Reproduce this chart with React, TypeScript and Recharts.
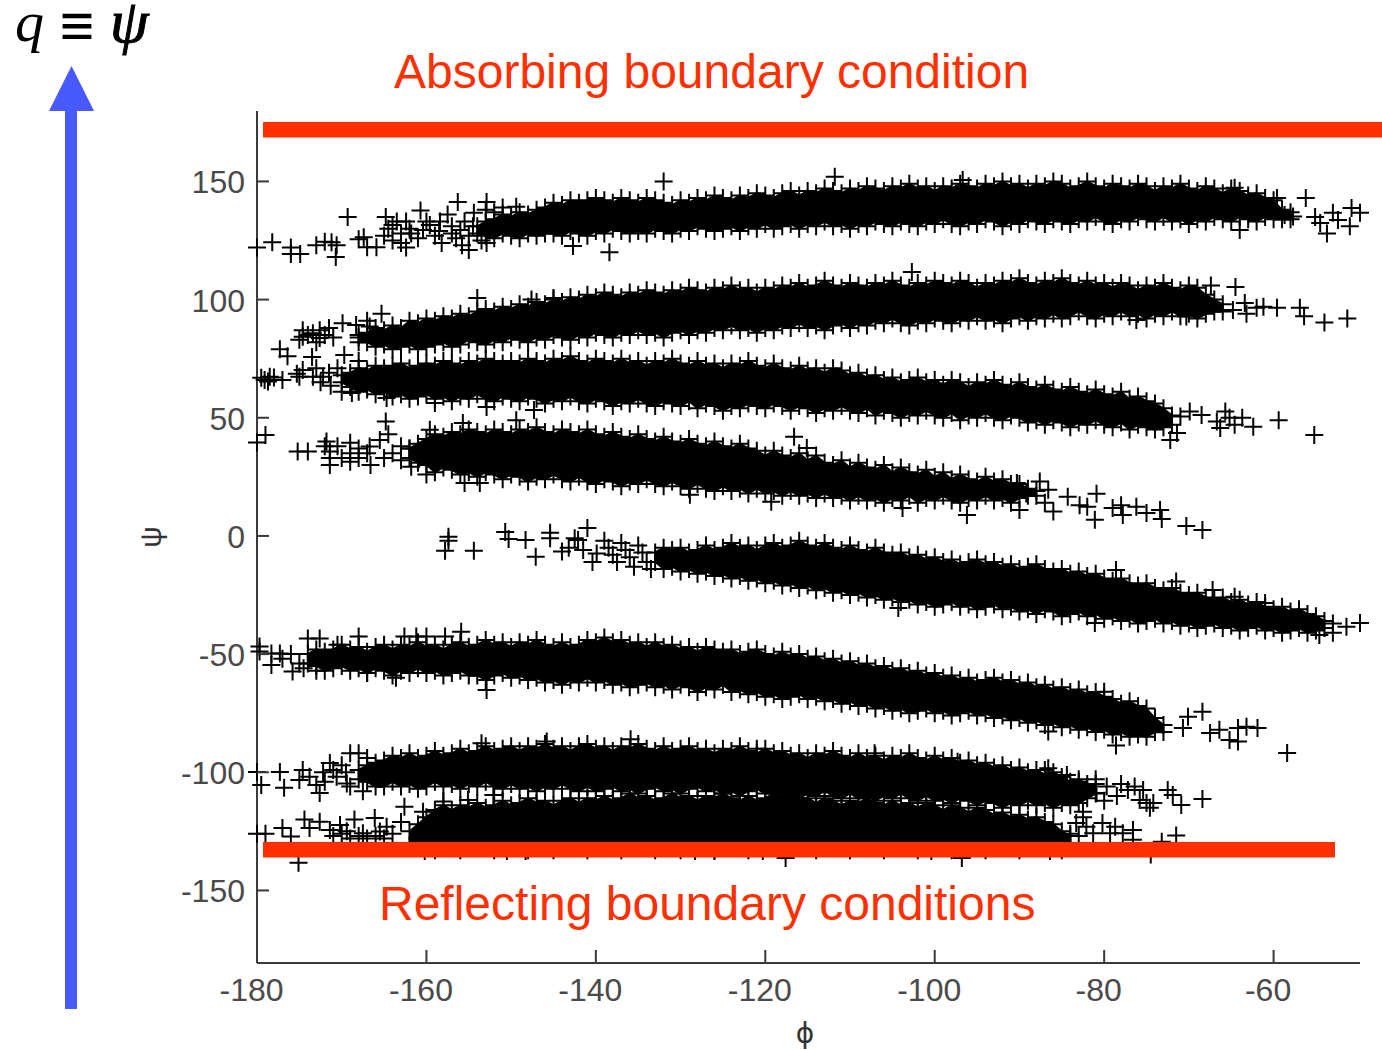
import { Area, ComposedChart, Scatter, XAxis, YAxis } from "recharts";

const phiTicks = [-180, -160, -140, -120, -100, -80, -60];
const psiTicks = [-150, -100, -50, 0, 50, 100, 150];

// each band: first phi of the dense part, then upper and lower edge of the cloud per degree of phi
const band1Start = -154;
const band1Hi = [130,132,133,135,134,136,135,137,138,
  140,139,141,140,141,142,141,140,142,141,
  140,142,141,140,139,141,140,142,141,143,
  142,141,143,142,144,143,142,144,145,143,
  145,144,146,145,144,146,145,147,146,145,
  147,146,148,146,147,145,147,146,148,147,
  146,148,147,149,147,148,146,148,147,149,
  148,146,147,149,147,146,148,147,146,148,
  147,145,147,146,148,146,145,147,146,144,
  146,145,143,144,142,141,137,136];
const band1Lo = [129,128,127,129,128,127,129,128,129,
  129,128,130,129,128,130,129,131,130,129,
  130,129,131,130,129,131,130,132,131,130,
  131,132,130,132,131,133,131,132,133,131,
  133,132,134,132,133,131,133,132,134,133,
  132,134,133,132,134,133,135,133,132,134,
  133,135,134,132,134,133,135,134,133,135,
  134,133,135,134,136,134,133,135,134,136,
  135,134,136,134,135,133,135,134,136,135,
  134,136,135,134,136,135,135,135];

const band2Start = -168;
const band2Hi = [84,85,87,86,88,87,90,89,91,90,
  92,91,93,92,94,95,94,96,95,97,
  96,98,97,99,98,100,99,101,100,102,
  101,100,102,101,103,102,101,103,102,104,
  103,102,104,103,105,103,104,102,104,103,
  105,104,106,104,105,107,105,104,106,105,
  104,106,105,107,105,104,106,105,107,106,
  105,107,106,104,106,105,107,106,108,106,
  105,107,106,108,106,105,107,105,106,104,
  106,105,103,105,104,106,104,103,105,104,
  101,99,97];
const band2Lo = [83,83,81,82,80,81,82,80,81,82,
  83,81,82,84,83,82,84,83,85,84,
  83,85,84,86,85,84,86,85,87,86,
  85,87,86,88,86,87,85,87,88,86,
  88,87,89,88,90,88,89,87,89,88,
  90,89,91,89,90,88,90,91,89,91,
  90,92,91,93,91,90,92,91,93,92,
  91,93,92,94,92,93,91,93,94,92,
  94,93,95,93,94,96,94,93,95,94,
  96,94,95,93,95,94,96,94,95,93,
  95,96,96];

const band3Start = -170;
const band3Hi = [67,68,70,69,71,70,71,72,70,71,
  72,71,73,72,71,73,72,74,73,72,
  73,72,74,73,72,74,73,75,73,72,
  74,73,72,74,72,73,71,73,72,74,
  72,71,73,71,72,70,72,71,73,71,
  70,72,70,69,71,69,70,68,70,69,
  67,68,66,67,65,66,64,65,66,64,
  65,63,65,64,62,64,63,65,63,62,
  64,62,61,63,61,60,62,60,59,61,
  59,58,60,57,58,56,55,53,50];
const band3Lo = [66,64,62,63,61,62,60,61,59,60,
  61,59,60,58,60,59,61,59,58,60,
  59,58,60,59,57,59,58,60,58,57,
  59,58,56,58,57,59,57,56,58,57,
  56,58,55,57,56,54,56,55,57,56,
  55,57,56,54,56,55,53,55,54,56,
  54,53,55,52,54,53,51,53,52,54,
  52,51,53,50,52,51,53,51,50,52,
  51,49,50,48,50,49,47,49,48,50,
  48,47,49,46,48,47,46,47,48];

const band4Start = -162;
const band4Hi = [36,38,40,42,41,43,42,44,43,42,
  44,43,42,44,43,45,43,42,44,43,
  42,44,42,41,43,41,40,42,40,39,
  41,39,38,40,38,37,39,37,36,38,
  36,35,33,35,33,32,34,31,33,30,
  29,31,28,30,28,27,29,26,28,26,
  25,27,24,26,23,25,23,22,24,22,
  23,21,21,19,18];
const band4Lo = [34,32,31,28,30,29,27,28,26,28,
  27,25,27,26,24,26,25,27,25,24,
  26,24,23,25,24,22,24,23,25,23,
  22,24,22,21,23,21,20,22,20,21,
  19,21,19,20,18,20,18,19,17,19,
  17,18,16,18,16,17,15,17,16,18,
  15,17,16,18,16,15,17,16,18,16,
  17,15,17,18,18];

const band5Start = -133;
const band5Hi = [-8,-6,-7,-6,-8,-7,-5,-7,-6,-4,
  -6,-5,-7,-5,-4,-6,-5,-3,-5,-6,
  -4,-6,-7,-5,-7,-8,-6,-8,-9,-8,
  -10,-9,-11,-10,-12,-11,-13,-12,-11,-13,
  -12,-14,-13,-15,-14,-13,-15,-16,-15,-17,
  -16,-18,-17,-19,-20,-19,-21,-22,-21,-23,
  -24,-23,-25,-26,-25,-27,-28,-27,-29,-28,
  -30,-29,-31,-32,-31,-33,-32,-34,-35,-37];
const band5Lo = [-10,-13,-12,-14,-13,-15,-14,-16,-15,-17,
  -16,-18,-17,-19,-18,-20,-19,-21,-20,-22,
  -21,-23,-22,-24,-23,-25,-24,-26,-25,-27,
  -26,-28,-27,-29,-28,-27,-29,-28,-30,-29,
  -28,-30,-29,-31,-30,-32,-30,-31,-33,-32,
  -31,-33,-32,-34,-33,-35,-34,-36,-35,-34,
  -36,-35,-37,-36,-38,-37,-36,-38,-37,-39,
  -38,-37,-39,-38,-40,-39,-38,-40,-39,-38];

const band6Start = -174;
const band6Hi = [-51,-49,-50,-49,-47,-49,-48,-50,-48,-47,
  -49,-47,-48,-46,-48,-47,-49,-47,-46,-48,
  -47,-45,-47,-46,-48,-46,-47,-45,-47,-48,
  -46,-48,-47,-45,-46,-44,-46,-45,-47,-46,
  -48,-46,-48,-47,-49,-48,-50,-48,-49,-50,
  -49,-51,-50,-49,-51,-52,-50,-52,-51,-53,
  -52,-54,-53,-55,-54,-56,-55,-57,-56,-58,
  -57,-59,-58,-60,-59,-61,-60,-62,-61,-63,
  -62,-61,-63,-62,-64,-63,-65,-64,-66,-65,
  -67,-66,-68,-67,-69,-70,-72,-71,-73,-74,
  -78,-81];
const band6Lo = [-53,-54,-56,-55,-54,-56,-55,-57,-55,-56,
  -58,-56,-57,-55,-57,-56,-58,-57,-56,-58,
  -58,-60,-58,-57,-59,-58,-60,-59,-61,-60,
  -62,-60,-61,-59,-61,-60,-62,-61,-63,-62,
  -61,-63,-62,-64,-62,-63,-65,-63,-64,-62,
  -65,-64,-66,-65,-67,-66,-68,-67,-66,-68,
  -67,-69,-68,-70,-69,-71,-70,-72,-71,-73,
  -72,-74,-73,-72,-74,-73,-75,-74,-73,-75,
  -74,-76,-75,-77,-76,-78,-77,-79,-78,-80,
  -79,-81,-80,-82,-81,-83,-82,-84,-83,-84,
  -82,-82];

const band7Start = -168;
const band7Hi = [-100,-98,-97,-96,-94,-95,-93,-95,-94,-92,
  -94,-93,-91,-93,-92,-90,-92,-91,-90,-92,
  -90,-91,-89,-91,-90,-92,-90,-89,-91,-90,
  -92,-90,-91,-89,-91,-92,-90,-92,-91,-90,
  -92,-91,-93,-91,-92,-90,-92,-93,-91,-93,
  -92,-94,-93,-95,-93,-94,-92,-94,-95,-93,
  -95,-94,-96,-94,-95,-93,-95,-96,-94,-96,
  -95,-97,-96,-98,-97,-99,-98,-100,-99,-101,
  -100,-102,-101,-103,-105,-104,-106,-106];
const band7Lo = [-102,-103,-105,-105,-103,-105,-104,-106,-105,-103,
  -105,-104,-106,-104,-105,-103,-105,-106,-104,-106,
  -105,-107,-105,-106,-104,-106,-107,-105,-107,-106,
  -105,-107,-106,-108,-106,-105,-107,-106,-108,-106,
  -105,-107,-106,-108,-107,-109,-107,-106,-108,-107,
  -109,-108,-110,-108,-109,-107,-109,-110,-108,-110,
  -109,-111,-109,-110,-108,-110,-111,-109,-111,-110,
  -112,-110,-111,-113,-111,-112,-114,-112,-113,-111,
  -113,-112,-114,-112,-113,-112,-110,-108];

const band8Start = -162;
const band8Hi = [-126,-123,-120,-117,-115,-117,-115,-116,-114,-116,
  -115,-113,-115,-114,-112,-114,-113,-115,-113,-112,
  -114,-112,-113,-111,-113,-112,-110,-112,-111,-113,
  -112,-110,-112,-111,-113,-111,-112,-110,-112,-113,
  -111,-113,-112,-110,-112,-111,-113,-112,-114,-112,
  -113,-115,-113,-114,-112,-114,-115,-113,-115,-114,
  -116,-114,-115,-117,-115,-116,-118,-116,-117,-119,
  -118,-120,-119,-121,-120,-122,-123,-126,-128];
const band8Lo = [-130,-131,-130,-132,-131,-130,-132,-131,-130,-131,
  -132,-130,-131,-130,-132,-131,-130,-132,-131,-130,
  -131,-132,-130,-131,-130,-132,-131,-130,-131,-132,
  -130,-131,-132,-130,-131,-130,-132,-131,-130,-131,
  -132,-130,-131,-130,-132,-131,-130,-131,-132,-130,
  -131,-130,-132,-131,-130,-131,-132,-130,-131,-130,
  -132,-131,-130,-131,-132,-130,-131,-130,-132,-131,
  -130,-131,-132,-130,-131,-130,-131,-132,-130];

// loose crosses around the bands, [phi, psi]
const band1Strays = [[-180,122],[-178.2,124.3],[-176,119.3],[-176,122],[-174.9,119.3],[-173,123],[-172,124.5],[-171.2,124.3],[-170.6,123],[-170.7,118],[-169.3,134.9],[-168,125.5],[-167.4,126.4],[-167,122.2],[-165.9,122.2],[-165,127],[-164.8,134.9],[-164.5,130],[-164,131.6],[-164,125],[-163.5,133],[-163,128],[-163,124],[-162.4,122],[-162.4,133],[-162,130],[-161.8,128],[-161,126],[-160.7,137.7],[-160.4,129.5],[-160,133],[-159.6,131.6],[-159,127],[-158.5,129],[-158.4,133],[-158.2,124],[-157.5,136],[-157,128],[-157,131],[-156.5,126],[-156.3,141.3],[-156,129.5],[-155.8,123],[-155.5,133],[-155,121],[-155,127],[-154.5,131],[-154.4,136.7],[-153.5,125],[-153,138],[-152.9,141.3],[-152.9,124],[-152,137],[-151,139],[-149.4,139.3],[-142.7,122.7],[-138.4,120],[-132,150],[-111.8,152],[-96.7,150.6],[-64.6,147.3],[-64,129.5],[-59.6,143],[-58.7,135.8],[-57.7,135.2],[-56.2,143],[-55.1,135],[-54.5,132.4],[-53.7,128],[-53,136.7],[-52.4,133.7],[-51,131],[-50.8,138.8],[-49.8,136.8]];
const band2Strays = [[-177.3,79],[-176.4,76],[-175,83],[-174.6,84.3],[-174.6,87],[-174,85],[-173.5,75.7],[-173.4,85.8],[-173,82],[-172.6,87],[-172.6,83.7],[-172,85],[-171.5,88],[-171,84],[-169.9,90],[-169.7,76.6],[-168.3,89.3],[-168,84],[-167,91],[-166.7,88.6],[-166,85],[-165.3,94],[-154,100.7],[-147.6,100],[-145,100.7],[-102.7,111.7],[-76.2,91.4],[-70.3,92.8],[-68.7,97],[-67.4,106],[-64.8,95.6],[-64.5,105.3],[-63.4,98.6],[-63.2,94],[-62,96.5],[-61.2,97],[-59.6,96.5],[-56.9,96.5],[-56.4,93],[-54,90.3],[-51.3,92]];
const band3Strays = [[-179.5,66.9],[-179.1,66],[-178.7,65.3],[-178.5,67.4],[-178,67],[-177,66],[-175.3,68.6],[-175,67.4],[-174.6,70.2],[-173.4,67.4],[-173,71],[-172.5,65],[-172.2,67.4],[-171.5,69],[-171.3,63.5],[-170.5,71],[-170,61],[-168.8,60.5],[-168,74],[-164.7,58.4],[-159,56.3],[-152.9,54.6],[-147.3,53.3],[-72.2,40.6],[-71.4,43.6],[-71,50.5],[-69.9,52.6],[-68.5,51.2],[-66.7,48.4],[-66.3,45.7],[-65.7,52.6],[-65.2,50],[-64.6,47],[-63.7,50],[-62.4,46.2],[-59.4,49],[-55.2,42.7]];
const band4Strays = [[-180,39.5],[-179,42.7],[-175.2,35.7],[-174,35.7],[-172,38],[-171.8,40],[-171.4,35.7],[-171.4,33],[-171.4,30],[-170.5,38],[-170,33],[-169,39.4],[-169,35],[-169,31.4],[-168,33],[-168,37],[-167,35],[-166.7,37.8],[-166.6,30],[-165.5,40.6],[-165,33],[-164.8,48.4],[-164.5,43],[-164,35],[-163,38],[-163,32],[-162,37],[-161.8,29.3],[-160,26],[-159.6,44.9],[-155.7,47.8],[-155.5,22.4],[-153.7,22.4],[-149.4,49],[-128.9,17.4],[-119.3,14.5],[-116.6,42],[-115.1,37.2],[-103.8,11.8],[-96.2,8.9],[-90.3,22.4],[-90,11],[-89.2,18],[-87.6,23],[-87,14],[-86.6,19.5],[-86,10.3],[-84.3,16.6],[-82.9,13],[-82,12.4],[-81.1,6.8],[-80.9,17.8],[-79,11.8],[-78,13],[-77.8,8.9],[-76.2,12.4],[-75,9.7],[-73.4,11],[-73.2,7.2],[-70.3,4.2],[-68.4,2.5]];
const band5Strays = [[-157.4,-0.3],[-157.4,-2],[-157.8,-6.3],[-154.4,-6.3],[-150.7,1.7],[-150.3,-1.3],[-148.3,-1.7],[-147.1,-8.8],[-145.4,1.3],[-145.4,-1],[-144,-6.6],[-143.2,-5],[-142.5,-1],[-142.1,-1.7],[-141.5,-6],[-141,3.4],[-140.4,-11],[-139.9,-7.4],[-139,-2],[-138.5,-5],[-138,-8],[-137.5,-11],[-137,-3],[-136.5,-6],[-136,-9],[-135.5,-13],[-135,-4],[-134.5,-7],[-134,-11],[-133.5,-14],[-104.3,-30.5],[-81.1,-36.8],[-78.6,-14.4],[-71.5,-19.3],[-67.2,-22.9],[-64.6,-25.7],[-61,-28.4],[-54.6,-41.9],[-53,-37],[-53,-41],[-51.4,-38.4],[-49.8,-36.8]];
const band6Strays = [[-179.7,-46.8],[-179.7,-48.9],[-178.3,-49.7],[-178.3,-54.6],[-177.3,-49.7],[-177,-52],[-176,-50],[-175.8,-57.4],[-175,-54],[-174.5,-56],[-174,-43.4],[-173,-57],[-172.6,-43.4],[-170.5,-46],[-168,-42.6],[-167,-58],[-163.6,-60],[-162.6,-42.6],[-161.2,-42.6],[-160,-42.6],[-157.8,-42.6],[-155.9,-40.5],[-152.9,-65.2],[-86.6,-82.8],[-80,-65.9],[-78.6,-88.7],[-70.7,-81.3],[-70.1,-76.5],[-68.4,-74.4],[-67.5,-83.4],[-66.4,-82],[-65.2,-86.3],[-64.2,-81.3],[-64.2,-87],[-63.2,-80.7],[-61.9,-81.3],[-58.4,-91.8]];
const band7Strays = [[-180,-99.9],[-179.5,-105.4],[-177.3,-99.9],[-176.8,-106.6],[-175,-103.3],[-174.6,-99],[-173.8,-101.9],[-173,-105.4],[-172.6,-108.8],[-172.2,-100],[-172,-104],[-171.4,-96.1],[-171,-99],[-170.6,-101.9],[-170,-97],[-169.5,-100],[-169.4,-104.7],[-169,-91.9],[-169,-106],[-168,-92],[-167.5,-108],[-167,-94],[-153.5,-87.7],[-145.8,-87],[-135.9,-86],[-121,-90],[-107.1,-91.9],[-97.3,-95.5],[-87,-99],[-86.6,-98.3],[-84.4,-101.2],[-83,-104],[-82.5,-116.7],[-82,-107],[-81,-103],[-80.9,-108.8],[-80,-112],[-79.7,-106],[-78.5,-110],[-78,-105],[-77.2,-107.5],[-76.4,-106],[-75.8,-111.7],[-75.4,-107.5],[-75,-113],[-74.6,-115],[-74.2,-113],[-72.5,-107.5],[-71.9,-109.6],[-70.9,-113.8],[-68.4,-111.3]];
const band8Strays = [[-180,-126],[-179,-126],[-177,-123.6],[-176,-127.2],[-175.1,-138.3],[-174.4,-120],[-173.8,-123.6],[-172.6,-120.9],[-171.4,-124.4],[-171,-127],[-170.2,-122.3],[-170,-126],[-169.4,-125],[-169,-128],[-168.5,-120],[-168,-127],[-167.5,-125.8],[-167,-128],[-166.1,-119.4],[-166,-127],[-165.5,-125.1],[-165,-128],[-164.7,-123],[-164,-126],[-163,-121],[-162.6,-114.6],[-160.4,-116.7],[-160.2,-133.3],[-158,-112.4],[-155.1,-111.7],[-152.1,-109.6],[-150.5,-133.3],[-148.3,-133.3],[-128.3,-133.3],[-126,-133.3],[-120.3,-133.3],[-117.6,-136.3],[-100.4,-133.3],[-96.8,-136.3],[-86.4,-133.3],[-84,-126],[-83.3,-121.5],[-83,-127],[-82.5,-119],[-82.1,-123],[-81.3,-125.8],[-80.2,-121.5],[-79.3,-125.8],[-78.7,-123],[-77.8,-125.8],[-76.6,-124.4],[-76.6,-128.6],[-74.5,-134.8],[-73.2,-129.4],[-71.5,-126.7]];

const bands = [
  { key: "b1", start: band1Start, hi: band1Hi, lo: band1Lo, strays: band1Strays },
  { key: "b2", start: band2Start, hi: band2Hi, lo: band2Lo, strays: band2Strays },
  { key: "b3", start: band3Start, hi: band3Hi, lo: band3Lo, strays: band3Strays },
  { key: "b4", start: band4Start, hi: band4Hi, lo: band4Lo, strays: band4Strays },
  { key: "b5", start: band5Start, hi: band5Hi, lo: band5Lo, strays: band5Strays },
  { key: "b6", start: band6Start, hi: band6Hi, lo: band6Lo, strays: band6Strays },
  { key: "b7", start: band7Start, hi: band7Hi, lo: band7Lo, strays: band7Strays },
  { key: "b8", start: band8Start, hi: band8Hi, lo: band8Lo, strays: band8Strays },
];

// the edges above were read a little inside the cloud
const corePad = 1.5;
const edgePad = 1;

const rows: Record<string, any>[] = [];
for (let phi = -180; phi <= -50; phi++) {
  const row: Record<string, any> = { phi };
  bands.forEach((b) => {
    const i = phi - b.start;
    if (i >= 0 && i < b.hi.length) row[b.key] = [b.lo[i] - corePad, b.hi[i] + corePad];
  });
  rows.push(row);
}

const crossPoints = bands.map((b) => [
  ...b.hi.map((psi, i) => ({ phi: b.start + i, psi: psi + edgePad })),
  ...b.lo.map((psi, i) => ({ phi: b.start + i, psi: psi - edgePad })),
  ...b.strays.map(([phi, psi]) => ({ phi, psi })),
]);

const axisColor = "#3a3a3a";
const labelFont = { fontFamily: "'Liberation Sans'", fontSize: 32, fill: "#4a4a4a" };
const red = "#ff2f00";
const blue = "#465aff";

function CrossMark({ cx, cy }: any) {
  return <path d={`M${cx - 9} ${cy}h18M${cx} ${cy - 9}v18`} stroke="#000" strokeWidth={2} fill="none" />;
}

function PsiTick({ x, y, payload }: any) {
  return (
    <g>
      <line x1={x + 12} x2={x + 24} y1={y} y2={y} stroke={axisColor} strokeWidth={2} />
      <text x={x} y={y + 12} textAnchor="end" {...labelFont}>{payload.value}</text>
    </g>
  );
}

function PhiTick({ x, y, payload }: any) {
  return (
    <g>
      <line x1={x} x2={x} y1={y - 38} y2={y - 51} stroke={axisColor} strokeWidth={2} />
      <text x={x - 5.5} y={y} textAnchor="middle" {...labelFont}>{payload.value}</text>
    </g>
  );
}

export default function App() {
  return (
    <div style={{ position: "absolute", left: 0, top: 0, width: 1382, height: 1050, background: "#fff" }}>
      <ComposedChart width={1382} height={1050} data={rows} margin={{ top: 111, right: 22, bottom: 0, left: 0 }}>
        <XAxis dataKey="phi" type="number" domain={[-180, -49.8]} ticks={phiTicks} interval={0} height={87}
          tickSize={0} tickMargin={38} tick={<PhiTick />} axisLine={{ stroke: axisColor, strokeWidth: 2 }} />
        <YAxis dataKey="psi" type="number" domain={[-180.7, 179.8]} ticks={psiTicks} interval={0} width={257}
          tickSize={0} tickMargin={12} tick={<PsiTick />} axisLine={{ stroke: axisColor, strokeWidth: 2 }} />
        {bands.map((b) => (
          <Area key={b.key} dataKey={b.key} type="linear" stroke="none" fill="#000" fillOpacity={1}
            dot={false} activeDot={false} isAnimationActive={false} />
        ))}
        {crossPoints.map((pts, i) => (
          <Scatter key={i} data={pts} shape={<CrossMark />} isAnimationActive={false} />
        ))}
      </ComposedChart>
      <svg width={1382} height={1050} style={{ position: "absolute", left: 0, top: 0, pointerEvents: "none" }}>
        <rect x={263} y={122} width={1119} height={15.5} fill={red} />
        <rect x={263} y={842} width={1072} height={15.5} fill={red} />
        <rect x={65} y={110} width={12} height={899} fill={blue} />
        <path d="M71.5 66L94 111H49Z" fill={blue} />
        <text x={394} y={88} fontFamily="'Liberation Sans'" fontSize={48} fill={red}>Absorbing boundary condition</text>
        <text x={379} y={920} fontFamily="'Liberation Sans'" fontSize={48} fill={red}>Reflecting boundary conditions</text>
        <text x={15} y={41} fontFamily="'Liberation Serif'" fontStyle="italic" fontSize={58} fill="#000">q</text>
        <text x={59.5} y={47} fontFamily="'Liberation Serif'" fontWeight="bold" fontSize={62} fill="#000">≡</text>
        <text x={110} y={42} fontFamily="'Liberation Serif'" fontStyle="italic" fontSize={62} fill="#000" stroke="#000" strokeWidth={1}>ψ</text>
        <text x={161} y={537} transform="rotate(-90 161 537)" textAnchor="middle" fontFamily="'Liberation Sans'" fontSize={30} fill="#333">ψ</text>
        <text x={805} y={1043} textAnchor="middle" fontFamily="'DejaVu Sans'" fontSize={28} fill="#333">ϕ</text>
      </svg>
    </div>
  );
}
